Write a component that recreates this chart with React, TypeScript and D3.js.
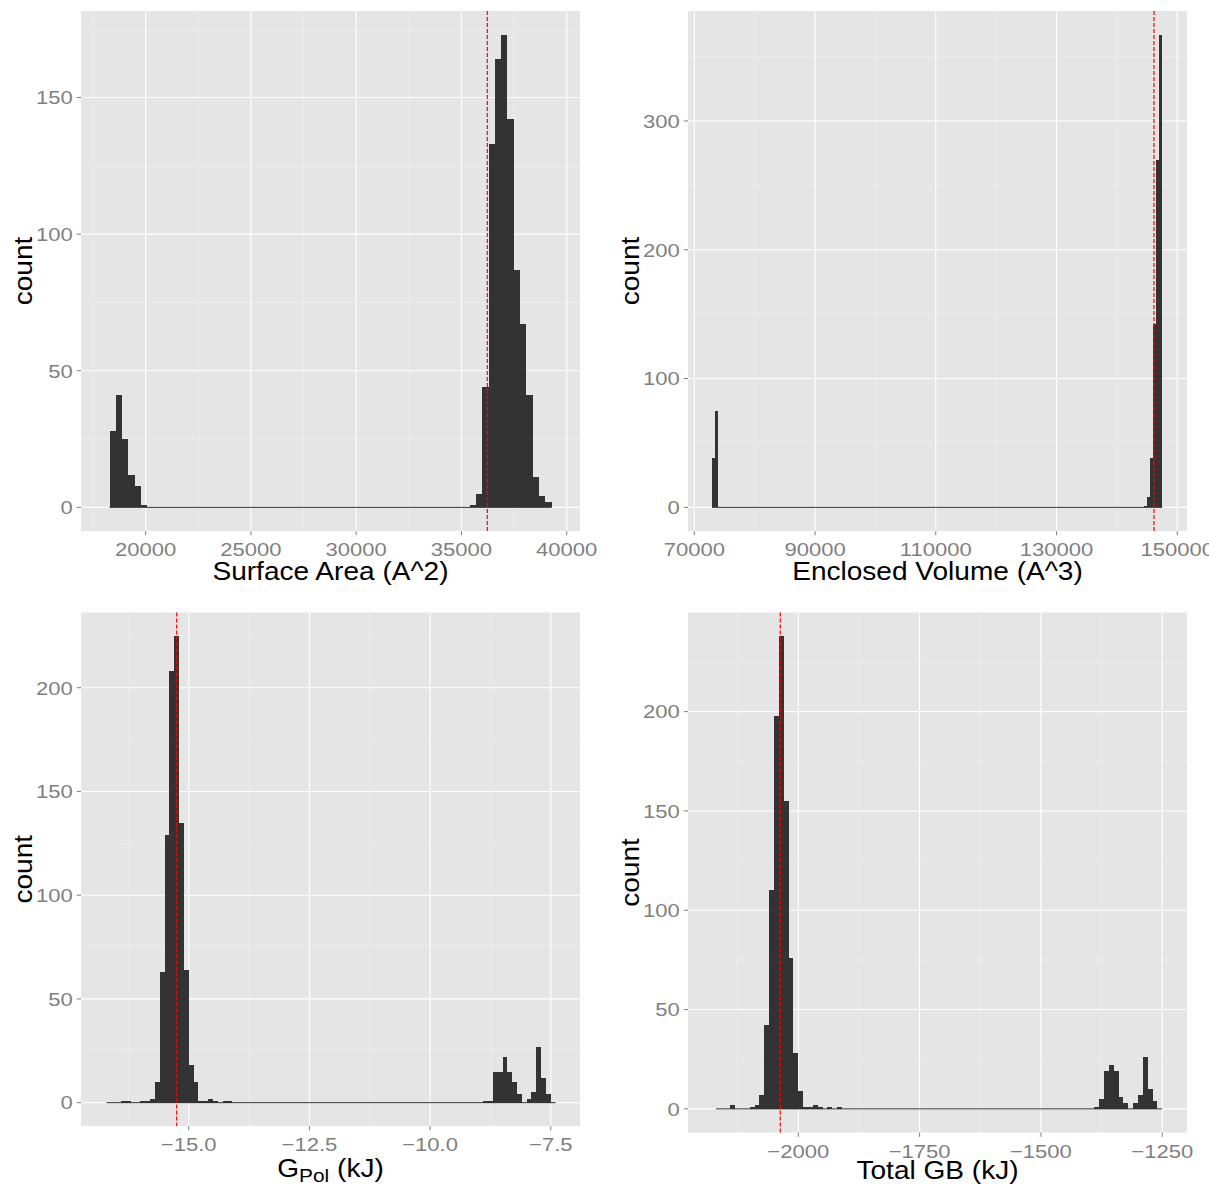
import React from 'react';
import * as d3 from 'd3';

const FONT = '"Liberation Sans", Arial, Helvetica, sans-serif';

// ---------- Surface Area (A^2)
const areaBinStarts = [18285, 18585, 18885, 19185, 19485, 19785, 35385, 35685, 35985, 36285, 36585, 36885, 37185, 37485, 37785, 38085, 38385, 38685, 38985];
const areaCounts = [28, 41, 25, 12, 8, 1, 1, 5, 44, 133, 164, 173, 142, 87, 67, 41, 11, 4, 2];
const areaBinWidth = 300;
const areaBinRange = [18285, 39285];
const areaMean = 36228;
const areaDomain = [16930, 40630];
const areaMajorX = [20000, 25000, 30000, 35000, 40000];
const areaMinorX = [17500, 22500, 27500, 32500, 37500];
const areaXLabels = ['20000', '25000', '30000', '35000', '40000'];
const areaMajorY = [0, 50, 100, 150];
const areaMinorY = [25, 75, 125, 175];
const areaYLabels = ['0', '50', '100', '150'];

// ---------- Enclosed Volume (A^3)
const volBinStarts = [72934, 73452, 144418, 144936, 145454, 145972, 146490, 147008];
const volCounts = [38, 75, 1, 8, 38, 142, 270, 367];
const volBinWidth = 518;
const volBinRange = [72934, 147526];
const volMean = 146144;
const volDomain = [68956, 151614];
const volMajorX = [70000, 90000, 110000, 130000, 150000];
const volMinorX = [80000, 100000, 120000, 140000];
const volXLabels = ['70000', '90000', '110000', '130000', '150000'];
const volMajorY = [0, 100, 200, 300];
const volMinorY = [50, 150, 250, 350];
const volYLabels = ['0', '100', '200', '300'];

// ---------- G_Pol (kJ)
const gpolBinStarts = [-16.4, -16.3, -16.0, -15.9, -15.8, -15.7, -15.6, -15.5, -15.4, -15.3, -15.2, -15.1, -15.0, -14.9, -14.8, -14.7, -14.6, -14.5, -14.3, -14.2, -8.9, -8.8, -8.7, -8.6, -8.5, -8.4, -8.3, -8.2, -8.0, -7.9, -7.8, -7.7, -7.6];
const gpolCounts = [1, 1, 1, 1, 2, 10, 63, 129, 208, 225, 135, 64, 18, 10, 1, 1, 2, 1, 1, 1, 1, 1, 15, 15, 22, 15, 10, 4, 2, 5, 27, 12, 4];
const gpolBinWidth = 0.1;
const gpolBinRange = [-16.7, -7.4];
const gpolMean = -15.249;
const gpolDomain = [-17.231, -6.895];
const gpolMajorX = [-15, -12.5, -10, -7.5];
const gpolMinorX = [-16.25, -13.75, -11.25, -8.75];
const gpolXLabels = ['\u221215.0', '\u221212.5', '\u221210.0', '\u22127.5'];
const gpolMajorY = [0, 50, 100, 150, 200];
const gpolMinorY = [25, 75, 125, 175, 225];
const gpolYLabels = ['0', '50', '100', '150', '200'];

// ---------- Total GB (kJ)
const gbBinStarts = [-2140, -2100, -2090, -2080, -2070, -2060, -2050, -2040, -2030, -2020, -2010, -2000, -1990, -1980, -1970, -1960, -1940, -1920, -1390, -1380, -1370, -1360, -1350, -1340, -1330, -1310, -1300, -1290, -1280, -1270];
const gbCounts = [2, 1, 2, 7, 42, 110, 198, 238, 155, 76, 28, 9, 1, 1, 2, 1, 1, 1, 1, 5, 19, 22, 19, 6, 3, 3, 7, 26, 10, 4];
const gbBinWidth = 10;
const gbBinRange = [-2170, -1250];
const gbMean = -2037.1;
const gbDomain = [-2227.3, -1199];
const gbMajorX = [-2000, -1750, -1500, -1250];
const gbMinorX = [-2125, -1875, -1625, -1375];
const gbXLabels = ['\u22122000', '\u22121750', '\u22121500', '\u22121250'];
const gbMajorY = [0, 50, 100, 150, 200];
const gbMinorY = [25, 75, 125, 175, 225];
const gbYLabels = ['0', '50', '100', '150', '200'];

const TICK_SIZE = 19;
const TICK_SX = 1.16;
const TITLE_SIZE = 25.5;
const TITLE_SX = 1.1;
const GREY50 = '#7F7F7F';

type Box = { left: number; right: number; top: number; bottom: number };

function Txt(props: any) {
  const { x, y, size, sx = 1, anchor = 'middle', fill = '#000', rotate = 0, children } = props;
  return (
    <text
      transform={`translate(${x},${y}) rotate(${rotate}) scale(${sx},1)`}
      fontSize={size}
      textAnchor={anchor}
      fill={fill}
      fontFamily={FONT}
    >
      {children}
    </text>
  );
}

function Panel(props: any) {
  const { box, xDomain, binStarts, counts, binWidth, binRange, mean, majorX, minorX, xLabels, majorY, minorY, yLabels, xTitle, titleBaseline, countX } = props;
  const b: Box = box;
  const maxC = d3.max(counts as number[]) as number;
  const x = d3.scaleLinear().domain(xDomain).range([b.left, b.right]);
  const y = d3.scaleLinear().domain([-0.05 * maxC, 1.05 * maxC]).range([b.bottom, b.top]);
  const cx = (b.left + b.right) / 2;
  const cy = (b.top + b.bottom) / 2;
  return (
    <g>
      <rect x={b.left} y={b.top} width={b.right - b.left} height={b.bottom - b.top} fill="#E5E5E5" />
      {minorY.map((v: number) => (
        <line key={'my' + v} x1={b.left} x2={b.right} y1={y(v)} y2={y(v)} stroke="#F2F2F2" strokeWidth={0.6} />
      ))}
      {minorX.map((v: number) => (
        <line key={'mx' + v} x1={x(v)} x2={x(v)} y1={b.top} y2={b.bottom} stroke="#F2F2F2" strokeWidth={0.6} />
      ))}
      {majorY.map((v: number) => (
        <line key={'My' + v} x1={b.left} x2={b.right} y1={y(v)} y2={y(v)} stroke="#FFFFFF" strokeWidth={1.1} />
      ))}
      {majorX.map((v: number) => (
        <line key={'Mx' + v} x1={x(v)} x2={x(v)} y1={b.top} y2={b.bottom} stroke="#FFFFFF" strokeWidth={1.1} />
      ))}
      <line x1={x(binRange[0])} x2={x(binRange[1])} y1={y(0)} y2={y(0)} stroke="#333333" strokeWidth={1} />
      {binStarts.map((s: number, i: number) => (
        <rect
          key={'b' + i}
          x={x(s)}
          width={x(s + binWidth) - x(s)}
          y={y(counts[i])}
          height={y(0) - y(counts[i])}
          fill="#333333"
          shapeRendering="crispEdges"
        />
      ))}
      <line x1={x(mean)} x2={x(mean)} y1={b.top} y2={b.bottom} stroke="#FF0000" strokeWidth={1.2} strokeDasharray="4,2" />
      {majorX.map((v: number, i: number) => (
        <g key={'xt' + v}>
          <line x1={x(v)} x2={x(v)} y1={b.bottom} y2={b.bottom + 4.3} stroke={GREY50} strokeWidth={1} />
          <Txt x={x(v)} y={b.bottom + 25} size={TICK_SIZE} sx={TICK_SX} fill={GREY50}>{xLabels[i]}</Txt>
        </g>
      ))}
      {majorY.map((v: number, i: number) => (
        <g key={'yt' + v}>
          <line x1={b.left - 4.3} x2={b.left} y1={y(v)} y2={y(v)} stroke={GREY50} strokeWidth={1} />
          <Txt x={b.left - 8.3} y={y(v) + 6.8} size={TICK_SIZE} sx={TICK_SX} anchor="end" fill={GREY50}>{yLabels[i]}</Txt>
        </g>
      ))}
      {typeof xTitle === 'string' ? (
        <Txt x={cx} y={titleBaseline} size={TITLE_SIZE} sx={TITLE_SX}>{xTitle}</Txt>
      ) : (
        <text transform={`translate(${cx},${titleBaseline}) scale(${TITLE_SX},1)`} fontSize={TITLE_SIZE} textAnchor="middle" fontFamily={FONT} fill="#000">
          <tspan>{xTitle.main}</tspan>
          <tspan fontSize={19} dy={5}>{xTitle.sub}</tspan>
          <tspan dy={-5}>{xTitle.rest}</tspan>
        </text>
      )}
      <Txt x={countX} y={cy} size={TITLE_SIZE} sx={TITLE_SX} rotate={-90}>count</Txt>
    </g>
  );
}

export default function App() {
  return (
    <svg width={1209} height={1187} style={{ position: 'absolute', left: 0, top: 0, background: '#FFFFFF' }}>
      <rect x={0} y={0} width={1209} height={1187} fill="#FFFFFF" />
      <Panel
        box={{ left: 81, right: 580, top: 11, bottom: 531 }}
        xDomain={areaDomain} binStarts={areaBinStarts} counts={areaCounts} binWidth={areaBinWidth} binRange={areaBinRange}
        mean={areaMean} majorX={areaMajorX} minorX={areaMinorX} xLabels={areaXLabels}
        majorY={areaMajorY} minorY={areaMinorY} yLabels={areaYLabels}
        xTitle="Surface Area (A^2)" titleBaseline={580} countX={32}
      />
      <Panel
        box={{ left: 688, right: 1187, top: 11, bottom: 531 }}
        xDomain={volDomain} binStarts={volBinStarts} counts={volCounts} binWidth={volBinWidth} binRange={volBinRange}
        mean={volMean} majorX={volMajorX} minorX={volMinorX} xLabels={volXLabels}
        majorY={volMajorY} minorY={volMinorY} yLabels={volYLabels}
        xTitle="Enclosed Volume (A^3)" titleBaseline={580} countX={639}
      />
      <Panel
        box={{ left: 81, right: 580, top: 612.5, bottom: 1126 }}
        xDomain={gpolDomain} binStarts={gpolBinStarts} counts={gpolCounts} binWidth={gpolBinWidth} binRange={gpolBinRange}
        mean={gpolMean} majorX={gpolMajorX} minorX={gpolMinorX} xLabels={gpolXLabels}
        majorY={gpolMajorY} minorY={gpolMinorY} yLabels={gpolYLabels}
        xTitle={{ main: 'G', sub: 'Pol', rest: ' (kJ)' }} titleBaseline={1177} countX={32}
      />
      <Panel
        box={{ left: 688, right: 1187, top: 612.5, bottom: 1132.5 }}
        xDomain={gbDomain} binStarts={gbBinStarts} counts={gbCounts} binWidth={gbBinWidth} binRange={gbBinRange}
        mean={gbMean} majorX={gbMajorX} minorX={gbMinorX} xLabels={gbXLabels}
        majorY={gbMajorY} minorY={gbMinorY} yLabels={gbYLabels}
        xTitle="Total GB (kJ)" titleBaseline={1179} countX={639}
      />
    </svg>
  );
}
